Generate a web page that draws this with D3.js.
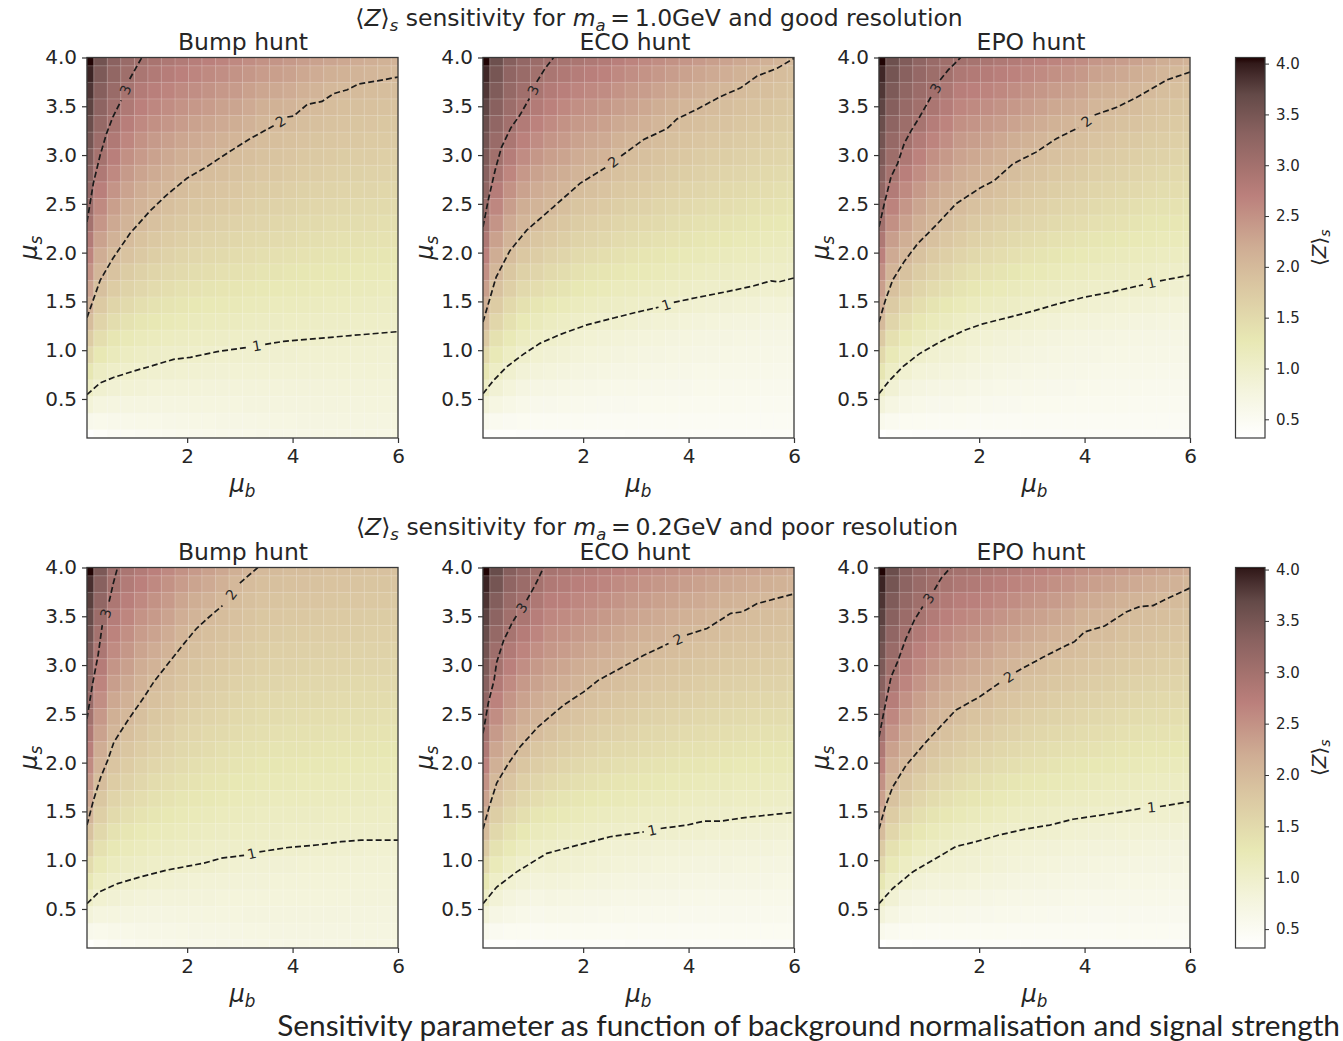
<!DOCTYPE html>
<html>
<head>
<meta charset="utf-8">
<script src="https://cdn.jsdelivr.net/npm/d3@7/dist/d3.min.js"></script>
<style>
  body { margin: 0; background: #fff; }
  svg { display: block; }
  text { font-family: "DejaVu Sans", sans-serif; fill: #262626; }
</style>
</head>
<body>
<div id="chart"></div>
<script>
// cell centres of the mesh
const muBGrid = [0.1,0.36,0.61,0.87,1.13,1.38,1.64,1.9,2.15,2.41,2.67,2.92,3.18,3.43,3.69,3.95,4.2,4.46,4.72,4.97,5.23,5.49,5.74,6];
const muSGrid = [0.1,0.27,0.44,0.61,0.78,0.95,1.12,1.29,1.46,1.63,1.8,1.97,2.13,2.3,2.47,2.64,2.81,2.98,3.15,3.32,3.49,3.66,3.83,4];

const xTicks = [2, 4, 6];
const yTicks = [0.5, 1, 1.5, 2, 2.5, 3, 3.5, 4];
const barTicks = [0.5, 1, 1.5, 2, 2.5, 3, 3.5, 4];

// pink_r, value -> colour
const zStops = [0.32,0.79,1.27,1.82,2.19,2.7,2.94,3.31,3.69,3.87,4,4.06];
const pinkStops = ['#ffffff','#f4f4dd','#e8e8b4','#dac6a1','#cfad94','#bb807c','#a87470','#8a6260','#644a48','#482f2f','#321a1a','#1e0000'];

// <Z>s, one inner list per muB column, bottom to top
const bumpGood = [
[.35,.60,.85,1.08,1.29,1.51,1.72,1.95,2.13,2.30,2.48,2.65,2.81,2.99,3.10,3.20,3.31,3.41,3.52,3.62,3.73,3.83,3.94,4.05],
[.42,.59,.76,.94,1.10,1.27,1.43,1.59,1.75,1.91,2.06,2.19,2.32,2.45,2.59,2.72,2.85,2.98,3.08,3.17,3.26,3.35,3.44,3.55],
[.47,.61,.75,.90,1.04,1.18,1.31,1.45,1.58,1.72,1.86,1.99,2.11,2.23,2.35,2.47,2.60,2.72,2.84,2.95,3.04,3.12,3.21,3.30],
[.50,.62,.75,.88,1.00,1.12,1.24,1.37,1.49,1.61,1.73,1.86,1.97,2.08,2.19,2.30,2.41,2.52,2.63,2.74,2.85,2.96,3.05,3.13],
[.52,.64,.75,.87,.97,1.08,1.19,1.31,1.42,1.54,1.65,1.77,1.87,1.99,2.09,2.19,2.29,2.40,2.50,2.60,2.70,2.80,2.91,3.01],
[.54,.64,.75,.85,.95,1.06,1.16,1.27,1.37,1.48,1.58,1.69,1.79,1.89,2.00,2.10,2.21,2.31,2.41,2.52,2.62,2.73,2.83,2.93],
[.56,.65,.75,.84,.94,1.03,1.13,1.23,1.33,1.43,1.53,1.63,1.72,1.82,1.92,2.02,2.13,2.24,2.34,2.45,2.55,2.66,2.76,2.87],
[.58,.67,.75,.84,.93,1.02,1.11,1.21,1.30,1.39,1.49,1.58,1.67,1.77,1.86,1.96,2.05,2.16,2.27,2.38,2.48,2.59,2.70,2.81],
[.60,.68,.76,.84,.92,1.01,1.09,1.18,1.27,1.36,1.45,1.54,1.63,1.72,1.81,1.90,2.00,2.11,2.22,2.32,2.43,2.54,2.64,2.75],
[.61,.68,.76,.83,.91,.99,1.08,1.16,1.25,1.34,1.43,1.52,1.60,1.69,1.78,1.87,1.96,2.06,2.17,2.27,2.38,2.49,2.59,2.70],
[.62,.69,.76,.83,.90,.97,1.06,1.15,1.23,1.32,1.40,1.49,1.57,1.66,1.75,1.83,1.92,2.01,2.12,2.22,2.32,2.43,2.54,2.65],
[.63,.70,.76,.83,.89,.97,1.05,1.14,1.22,1.30,1.39,1.47,1.55,1.63,1.72,1.80,1.88,1.96,2.07,2.18,2.28,2.39,2.49,2.60],
[.64,.70,.77,.83,.89,.95,1.04,1.12,1.20,1.28,1.36,1.44,1.52,1.60,1.68,1.76,1.84,1.92,2.00,2.11,2.22,2.33,2.44,2.55],
[.65,.71,.77,.83,.89,.95,1.03,1.11,1.19,1.26,1.34,1.42,1.49,1.57,1.65,1.73,1.80,1.88,1.96,2.04,2.15,2.27,2.38,2.50],
[.66,.72,.77,.83,.88,.94,1.02,1.10,1.17,1.25,1.33,1.40,1.48,1.55,1.63,1.70,1.78,1.85,1.93,2.00,2.12,2.23,2.35,2.46],
[.67,.72,.78,.83,.88,.94,1.01,1.09,1.16,1.24,1.31,1.39,1.46,1.53,1.61,1.68,1.75,1.83,1.90,1.98,2.08,2.20,2.31,2.42],
[.68,.73,.78,.83,.88,.93,1.01,1.08,1.15,1.22,1.29,1.36,1.43,1.50,1.58,1.65,1.72,1.79,1.86,1.94,2.02,2.13,2.25,2.36],
[.69,.74,.79,.83,.88,.93,1.00,1.07,1.14,1.21,1.28,1.35,1.42,1.49,1.56,1.63,1.70,1.77,1.84,1.91,1.98,2.09,2.20,2.32],
[.69,.74,.79,.83,.88,.93,.99,1.06,1.13,1.20,1.27,1.34,1.40,1.47,1.54,1.61,1.68,1.75,1.82,1.88,1.95,2.02,2.15,2.28],
[.70,.75,.79,.84,.88,.93,.99,1.06,1.13,1.19,1.26,1.33,1.39,1.46,1.53,1.59,1.66,1.73,1.80,1.86,1.93,2.00,2.12,2.25],
[.70,.75,.79,.84,.88,.93,.99,1.05,1.12,1.19,1.25,1.32,1.38,1.45,1.51,1.58,1.65,1.71,1.78,1.84,1.91,1.98,2.08,2.20],
[.71,.75,.80,.84,.89,.93,.98,1.05,1.11,1.18,1.24,1.31,1.37,1.44,1.50,1.57,1.63,1.70,1.76,1.83,1.90,1.96,2.05,2.16],
[.71,.75,.80,.84,.88,.92,.97,1.04,1.10,1.17,1.23,1.30,1.36,1.42,1.49,1.55,1.62,1.68,1.75,1.81,1.88,1.94,2.02,2.12],
[.72,.76,.80,.84,.88,.92,.97,1.03,1.10,1.16,1.23,1.29,1.35,1.42,1.48,1.55,1.61,1.68,1.74,1.81,1.87,1.94,2.00,2.10]
];
const ecoGood = [
[.33,.58,.82,1.07,1.30,1.52,1.75,2.00,2.18,2.35,2.53,2.70,2.87,3.03,3.13,3.23,3.33,3.43,3.53,3.62,3.72,3.82,3.92,4.05],
[.37,.54,.72,.90,1.07,1.23,1.39,1.56,1.72,1.88,2.04,2.19,2.33,2.47,2.62,2.76,2.91,3.03,3.13,3.22,3.32,3.41,3.50,3.60],
[.38,.52,.66,.81,.95,1.09,1.24,1.38,1.52,1.67,1.81,1.96,2.09,2.22,2.36,2.50,2.63,2.77,2.90,3.02,3.09,3.17,3.24,3.35],
[.39,.51,.62,.74,.86,.99,1.12,1.25,1.38,1.51,1.65,1.79,1.92,2.05,2.18,2.31,2.43,2.56,2.69,2.81,2.94,3.04,3.12,3.20],
[.39,.50,.60,.71,.82,.93,1.05,1.18,1.31,1.44,1.57,1.70,1.82,1.95,2.08,2.20,2.32,2.44,2.56,2.68,2.80,2.92,3.01,3.10],
[.40,.50,.60,.70,.80,.90,1.00,1.12,1.25,1.38,1.50,1.63,1.75,1.87,2.01,2.13,2.24,2.35,2.46,2.58,2.69,2.80,2.91,3.02],
[.40,.50,.59,.68,.78,.87,.96,1.08,1.20,1.33,1.45,1.57,1.69,1.81,1.93,2.06,2.18,2.29,2.40,2.50,2.61,2.72,2.84,2.95],
[.41,.50,.58,.66,.75,.84,.92,1.04,1.15,1.27,1.39,1.50,1.61,1.73,1.84,1.96,2.08,2.20,2.31,2.42,2.53,2.64,2.77,2.90],
[.41,.49,.57,.65,.73,.81,.89,1.01,1.12,1.23,1.34,1.46,1.57,1.68,1.80,1.91,2.03,2.15,2.26,2.38,2.49,2.60,2.73,2.85],
[.42,.49,.56,.64,.72,.80,.87,.98,1.10,1.21,1.32,1.43,1.54,1.64,1.75,1.86,1.97,2.10,2.22,2.33,2.44,2.56,2.68,2.80],
[.42,.49,.56,.63,.70,.77,.85,.96,1.07,1.17,1.28,1.38,1.48,1.58,1.69,1.79,1.90,2.00,2.12,2.24,2.36,2.48,2.60,2.72],
[.43,.49,.56,.62,.69,.76,.83,.93,1.05,1.15,1.25,1.35,1.45,1.55,1.65,1.75,1.85,1.95,2.06,2.19,2.31,2.42,2.54,2.66],
[.43,.49,.55,.61,.68,.74,.81,.90,1.03,1.13,1.23,1.32,1.42,1.52,1.62,1.72,1.82,1.91,2.01,2.13,2.25,2.37,2.48,2.60],
[.43,.49,.55,.61,.67,.73,.80,.88,1.01,1.11,1.21,1.30,1.39,1.49,1.58,1.68,1.77,1.87,1.96,2.06,2.18,2.30,2.43,2.55],
[.44,.49,.55,.60,.66,.72,.78,.87,.99,1.09,1.18,1.27,1.36,1.45,1.54,1.64,1.73,1.82,1.91,2.00,2.12,2.25,2.37,2.50],
[.44,.49,.54,.60,.65,.71,.76,.84,.95,1.06,1.15,1.24,1.33,1.42,1.51,1.60,1.69,1.78,1.87,1.96,2.06,2.19,2.32,2.45],
[.44,.49,.54,.59,.64,.70,.75,.82,.93,1.04,1.13,1.22,1.30,1.39,1.48,1.57,1.66,1.74,1.83,1.92,2.01,2.14,2.27,2.40],
[.44,.49,.54,.59,.64,.69,.74,.81,.91,1.03,1.11,1.20,1.28,1.37,1.45,1.54,1.63,1.71,1.80,1.88,1.97,2.08,2.22,2.35],
[.45,.49,.54,.58,.63,.68,.73,.79,.90,1.02,1.10,1.18,1.27,1.35,1.44,1.52,1.60,1.69,1.77,1.86,1.94,2.04,2.17,2.30],
[.45,.49,.54,.58,.63,.67,.72,.78,.88,.99,1.08,1.16,1.24,1.33,1.41,1.49,1.57,1.66,1.74,1.82,1.90,1.99,2.12,2.25],
[.45,.49,.53,.58,.62,.67,.71,.77,.87,.98,1.07,1.15,1.22,1.30,1.38,1.46,1.54,1.62,1.70,1.78,1.86,1.94,2.07,2.20],
[.45,.49,.53,.57,.62,.66,.70,.75,.84,.95,1.04,1.12,1.20,1.28,1.36,1.44,1.52,1.60,1.68,1.76,1.84,1.92,1.99,2.13],
[.45,.49,.53,.57,.61,.65,.70,.75,.85,.96,1.05,1.12,1.19,1.27,1.35,1.42,1.50,1.58,1.65,1.73,1.81,1.88,1.96,2.07],
[.45,.49,.53,.57,.61,.65,.69,.74,.83,.94,1.03,1.10,1.17,1.25,1.32,1.40,1.47,1.55,1.62,1.70,1.77,1.85,1.92,2.00]
];
const epoGood = [
[.33,.58,.82,1.07,1.30,1.52,1.75,2.00,2.18,2.35,2.53,2.70,2.87,3.03,3.13,3.23,3.33,3.43,3.53,3.62,3.72,3.82,3.92,4.05],
[.37,.54,.72,.90,1.07,1.24,1.40,1.57,1.74,1.90,2.07,2.22,2.36,2.52,2.67,2.81,2.97,3.07,3.16,3.26,3.35,3.44,3.52,3.60],
[.38,.51,.65,.78,.93,1.09,1.25,1.40,1.56,1.72,1.88,2.03,2.16,2.31,2.45,2.59,2.73,2.86,3.00,3.07,3.15,3.23,3.32,3.40],
[.39,.51,.62,.74,.85,.99,1.14,1.28,1.43,1.58,1.73,1.88,2.02,2.15,2.28,2.42,2.55,2.68,2.81,2.95,3.03,3.10,3.18,3.25],
[.39,.50,.60,.71,.82,.93,1.06,1.20,1.34,1.48,1.62,1.76,1.89,2.02,2.15,2.27,2.40,2.52,2.65,2.77,2.90,3.02,3.07,3.12],
[.40,.50,.60,.70,.80,.90,1.00,1.14,1.27,1.41,1.54,1.68,1.80,1.94,2.06,2.18,2.30,2.42,2.54,2.65,2.77,2.89,3.00,3.05],
[.40,.50,.59,.69,.78,.88,.97,1.08,1.21,1.34,1.47,1.59,1.72,1.85,1.97,2.08,2.19,2.30,2.41,2.52,2.63,2.74,2.87,3.00],
[.41,.49,.58,.66,.75,.84,.92,1.03,1.15,1.28,1.40,1.53,1.64,1.77,1.89,2.02,2.13,2.25,2.36,2.47,2.59,2.70,2.82,2.95],
[.41,.49,.57,.65,.73,.81,.89,1.00,1.12,1.24,1.36,1.48,1.59,1.71,1.83,1.95,2.07,2.19,2.31,2.42,2.54,2.66,2.78,2.90],
[.42,.49,.56,.64,.71,.79,.86,.97,1.10,1.21,1.33,1.44,1.55,1.66,1.78,1.90,2.01,2.13,2.25,2.37,2.49,2.61,2.73,2.85],
[.42,.49,.56,.63,.70,.77,.84,.95,1.07,1.18,1.29,1.40,1.50,1.61,1.72,1.83,1.94,2.05,2.18,2.30,2.43,2.55,2.68,2.80],
[.43,.49,.55,.62,.68,.75,.82,.92,1.04,1.15,1.25,1.36,1.46,1.57,1.67,1.78,1.88,1.99,2.12,2.25,2.37,2.50,2.62,2.75],
[.43,.49,.55,.61,.67,.73,.80,.89,1.02,1.12,1.23,1.33,1.43,1.54,1.64,1.74,1.85,1.95,2.06,2.19,2.31,2.44,2.57,2.70],
[.43,.49,.55,.60,.66,.72,.78,.87,1.00,1.10,1.20,1.30,1.39,1.49,1.59,1.69,1.79,1.89,1.99,2.12,2.25,2.38,2.52,2.65],
[.44,.49,.54,.60,.65,.71,.76,.85,.97,1.07,1.17,1.27,1.36,1.46,1.56,1.66,1.76,1.86,1.95,2.07,2.21,2.34,2.47,2.60],
[.44,.49,.54,.59,.65,.70,.75,.84,.95,1.06,1.15,1.25,1.34,1.44,1.54,1.63,1.73,1.83,1.92,2.03,2.17,2.29,2.42,2.55],
[.44,.49,.54,.59,.64,.69,.74,.82,.93,1.04,1.13,1.22,1.31,1.40,1.49,1.58,1.67,1.76,1.86,1.95,2.05,2.18,2.32,2.45],
[.44,.49,.54,.58,.63,.68,.73,.81,.91,1.03,1.11,1.20,1.29,1.38,1.47,1.56,1.65,1.74,1.83,1.92,2.01,2.15,2.28,2.42],
[.45,.49,.54,.58,.63,.68,.72,.80,.89,1.01,1.10,1.18,1.27,1.36,1.45,1.53,1.62,1.71,1.79,1.88,1.98,2.10,2.24,2.37],
[.45,.49,.53,.58,.62,.67,.71,.78,.88,.99,1.08,1.16,1.25,1.34,1.42,1.51,1.60,1.68,1.77,1.86,1.95,2.05,2.18,2.32],
[.45,.49,.53,.57,.62,.66,.71,.77,.87,.98,1.07,1.15,1.23,1.31,1.39,1.48,1.56,1.65,1.73,1.82,1.90,2.00,2.13,2.26],
[.45,.49,.53,.57,.61,.66,.70,.76,.85,.96,1.05,1.13,1.21,1.29,1.37,1.45,1.53,1.62,1.70,1.78,1.86,1.94,2.05,2.18],
[.45,.49,.53,.57,.61,.65,.69,.75,.84,.94,1.04,1.12,1.20,1.28,1.36,1.44,1.52,1.60,1.68,1.76,1.84,1.92,2.01,2.14],
[.45,.49,.53,.57,.61,.65,.69,.74,.82,.93,1.02,1.10,1.18,1.26,1.34,1.42,1.50,1.58,1.66,1.74,1.82,1.90,1.98,2.10]
];
const bumpPoor = [
[.38,.60,.82,1.05,1.26,1.46,1.67,1.88,2.09,2.25,2.42,2.57,2.72,2.87,3.01,3.12,3.23,3.35,3.46,3.56,3.66,3.76,3.87,4.05],
[.45,.59,.76,.93,1.09,1.24,1.38,1.53,1.67,1.81,1.96,2.08,2.19,2.31,2.43,2.54,2.66,2.78,2.89,2.99,3.10,3.22,3.33,3.45],
[.50,.63,.76,.90,1.03,1.14,1.26,1.37,1.49,1.60,1.72,1.83,1.94,2.05,2.15,2.25,2.36,2.46,2.57,2.67,2.77,2.88,3.00,3.06],
[.54,.64,.75,.86,.99,1.10,1.20,1.30,1.41,1.51,1.62,1.72,1.82,1.92,2.03,2.13,2.23,2.34,2.44,2.53,2.63,2.72,2.81,2.90],
[.57,.65,.74,.84,.96,1.07,1.16,1.25,1.35,1.44,1.54,1.63,1.72,1.82,1.91,2.00,2.10,2.19,2.29,2.38,2.48,2.60,2.70,2.80],
[.59,.66,.74,.83,.93,1.04,1.13,1.21,1.30,1.39,1.47,1.56,1.64,1.73,1.81,1.90,1.99,2.10,2.20,2.30,2.40,2.50,2.60,2.70],
[.60,.67,.74,.82,.92,1.03,1.11,1.19,1.27,1.35,1.43,1.51,1.59,1.67,1.75,1.83,1.91,1.99,2.10,2.20,2.30,2.40,2.50,2.60],
[.62,.68,.75,.82,.90,1.01,1.08,1.16,1.23,1.31,1.38,1.46,1.53,1.60,1.68,1.75,1.83,1.90,1.98,2.07,2.17,2.27,2.38,2.50],
[.63,.69,.75,.82,.88,.99,1.07,1.14,1.21,1.28,1.35,1.42,1.49,1.56,1.63,1.70,1.77,1.84,1.91,1.98,2.08,2.18,2.29,2.40],
[.64,.70,.76,.82,.87,.98,1.05,1.12,1.19,1.26,1.32,1.39,1.46,1.52,1.59,1.66,1.73,1.79,1.86,1.93,2.00,2.11,2.22,2.33],
[.65,.70,.76,.81,.87,.95,1.03,1.10,1.17,1.23,1.30,1.36,1.42,1.49,1.56,1.62,1.69,1.75,1.82,1.88,1.95,2.02,2.13,2.25],
[.66,.71,.76,.81,.86,.93,1.03,1.09,1.15,1.21,1.27,1.33,1.39,1.46,1.52,1.58,1.64,1.70,1.77,1.83,1.89,1.95,2.02,2.15],
[.67,.72,.77,.81,.86,.91,1.02,1.08,1.14,1.20,1.26,1.32,1.37,1.43,1.49,1.55,1.61,1.67,1.73,1.79,1.85,1.91,1.97,2.07],
[.68,.72,.77,.81,.86,.91,1.01,1.07,1.12,1.18,1.24,1.29,1.35,1.41,1.46,1.52,1.58,1.64,1.69,1.75,1.81,1.86,1.92,2.00],
[.68,.73,.77,.81,.85,.90,1.00,1.06,1.11,1.17,1.23,1.29,1.34,1.40,1.46,1.51,1.57,1.63,1.68,1.74,1.80,1.85,1.91,1.98],
[.69,.73,.77,.81,.85,.90,.99,1.05,1.11,1.16,1.22,1.28,1.33,1.39,1.45,1.50,1.56,1.62,1.67,1.73,1.79,1.84,1.90,1.96],
[.69,.73,.77,.81,.85,.89,.98,1.05,1.10,1.16,1.21,1.27,1.33,1.38,1.44,1.49,1.55,1.61,1.66,1.72,1.78,1.83,1.89,1.95],
[.70,.74,.77,.81,.85,.89,.97,1.04,1.10,1.15,1.21,1.26,1.32,1.38,1.43,1.49,1.54,1.60,1.66,1.71,1.77,1.83,1.88,1.94],
[.70,.74,.77,.81,.85,.89,.96,1.04,1.09,1.15,1.20,1.26,1.31,1.37,1.43,1.48,1.54,1.59,1.65,1.71,1.76,1.82,1.87,1.93],
[.71,.74,.78,.81,.85,.88,.95,1.03,1.09,1.14,1.20,1.25,1.31,1.36,1.42,1.48,1.53,1.59,1.64,1.70,1.75,1.81,1.86,1.92],
[.71,.75,.78,.82,.85,.88,.94,1.03,1.08,1.14,1.19,1.25,1.30,1.36,1.41,1.47,1.52,1.58,1.63,1.69,1.74,1.80,1.85,1.91],
[.72,.75,.78,.82,.85,.88,.93,1.03,1.08,1.14,1.19,1.24,1.30,1.35,1.41,1.46,1.52,1.57,1.63,1.68,1.73,1.79,1.84,1.90],
[.72,.75,.78,.82,.85,.88,.93,1.03,1.08,1.13,1.19,1.24,1.29,1.35,1.40,1.46,1.51,1.57,1.62,1.67,1.73,1.78,1.84,1.89],
[.72,.75,.78,.82,.85,.88,.93,1.03,1.08,1.13,1.18,1.24,1.29,1.34,1.40,1.45,1.51,1.56,1.61,1.67,1.72,1.77,1.83,1.88]
];
const ecoPoor = [
[.33,.58,.82,1.07,1.29,1.51,1.74,1.97,2.15,2.32,2.50,2.68,2.85,3.00,3.11,3.22,3.33,3.44,3.54,3.64,3.74,3.84,3.94,4.05],
[.37,.53,.70,.87,1.05,1.21,1.37,1.53,1.69,1.85,2.01,2.14,2.27,2.41,2.55,2.68,2.82,2.96,3.06,3.17,3.27,3.38,3.52,3.65],
[.38,.51,.65,.79,.92,1.08,1.23,1.38,1.53,1.68,1.83,1.98,2.09,2.21,2.34,2.46,2.58,2.71,2.83,2.95,3.03,3.13,3.24,3.35],
[.39,.51,.62,.74,.86,.99,1.13,1.27,1.41,1.54,1.68,1.82,1.95,2.07,2.19,2.31,2.42,2.54,2.66,2.78,2.90,3.02,3.10,3.20],
[.39,.50,.60,.71,.82,.93,1.05,1.18,1.31,1.44,1.57,1.70,1.82,1.97,2.09,2.20,2.31,2.42,2.53,2.64,2.75,2.86,2.98,3.05],
[.40,.51,.62,.73,.84,.95,1.02,1.15,1.27,1.39,1.52,1.64,1.75,1.88,2.00,2.11,2.22,2.33,2.44,2.52,2.62,2.72,2.84,2.95],
[.40,.51,.62,.72,.83,.93,.99,1.11,1.23,1.34,1.46,1.58,1.69,1.81,1.93,2.04,2.16,2.27,2.38,2.48,2.58,2.69,2.79,2.90],
[.41,.51,.61,.71,.81,.91,.98,1.09,1.20,1.31,1.42,1.53,1.64,1.75,1.86,1.97,2.08,2.19,2.31,2.42,2.53,2.62,2.73,2.85],
[.41,.51,.60,.70,.79,.89,.95,1.06,1.17,1.27,1.38,1.48,1.59,1.69,1.80,1.91,2.01,2.13,2.25,2.36,2.47,2.58,2.69,2.80],
[.42,.51,.59,.69,.78,.87,.93,1.04,1.14,1.25,1.35,1.46,1.55,1.66,1.76,1.86,1.97,2.09,2.20,2.31,2.42,2.53,2.64,2.75],
[.42,.50,.59,.67,.76,.85,.91,1.02,1.12,1.22,1.32,1.42,1.52,1.62,1.72,1.82,1.92,2.02,2.14,2.25,2.36,2.47,2.58,2.70],
[.43,.51,.58,.67,.75,.84,.91,1.01,1.11,1.21,1.30,1.40,1.49,1.59,1.69,1.78,1.88,1.97,2.08,2.19,2.30,2.41,2.53,2.65],
[.43,.50,.58,.66,.74,.83,.90,1.00,1.09,1.18,1.28,1.37,1.46,1.55,1.65,1.74,1.83,1.93,2.03,2.15,2.26,2.37,2.48,2.60],
[.43,.50,.58,.65,.73,.81,.88,.98,1.07,1.17,1.26,1.35,1.44,1.53,1.62,1.71,1.80,1.90,1.99,2.11,2.22,2.33,2.44,2.56],
[.44,.50,.58,.65,.73,.80,.87,.98,1.07,1.16,1.24,1.33,1.42,1.51,1.60,1.69,1.78,1.87,1.96,2.06,2.17,2.29,2.40,2.52],
[.44,.50,.57,.64,.71,.79,.86,.96,1.05,1.13,1.22,1.31,1.39,1.48,1.57,1.66,1.75,1.84,1.92,2.01,2.13,2.24,2.36,2.48],
[.44,.50,.57,.64,.71,.78,.85,.95,1.04,1.12,1.21,1.30,1.38,1.46,1.55,1.64,1.72,1.81,1.90,1.98,2.10,2.22,2.33,2.45],
[.44,.50,.57,.63,.70,.77,.84,.93,1.03,1.11,1.19,1.28,1.36,1.44,1.53,1.61,1.69,1.78,1.86,1.95,2.05,2.17,2.28,2.40],
[.45,.51,.57,.63,.70,.77,.84,.93,1.03,1.11,1.19,1.27,1.35,1.43,1.51,1.59,1.67,1.75,1.84,1.92,2.00,2.12,2.24,2.36],
[.45,.51,.57,.63,.69,.76,.83,.92,1.01,1.09,1.17,1.25,1.33,1.41,1.49,1.58,1.66,1.74,1.82,1.90,1.98,2.09,2.21,2.33],
[.45,.51,.57,.63,.69,.76,.82,.91,1.01,1.09,1.17,1.25,1.32,1.40,1.48,1.56,1.64,1.72,1.80,1.88,1.96,2.05,2.17,2.30],
[.45,.51,.57,.63,.69,.75,.82,.91,1.00,1.08,1.16,1.24,1.31,1.39,1.47,1.55,1.63,1.71,1.78,1.86,1.94,2.03,2.15,2.27],
[.45,.51,.57,.62,.68,.75,.81,.90,.99,1.07,1.15,1.23,1.31,1.38,1.46,1.54,1.62,1.69,1.77,1.85,1.93,2.00,2.12,2.24],
[.45,.51,.56,.62,.68,.74,.80,.89,.98,1.06,1.14,1.22,1.29,1.37,1.45,1.52,1.60,1.68,1.75,1.83,1.91,1.98,2.09,2.20]
];
const epoPoor = [
[.33,.58,.82,1.07,1.29,1.51,1.74,1.97,2.16,2.33,2.51,2.69,2.86,3.02,3.13,3.23,3.33,3.44,3.54,3.64,3.74,3.84,3.94,4.05],
[.37,.54,.72,.90,1.07,1.23,1.39,1.56,1.72,1.88,2.04,2.19,2.33,2.47,2.62,2.76,2.91,3.03,3.12,3.22,3.32,3.42,3.52,3.62],
[.38,.51,.65,.78,.93,1.09,1.24,1.39,1.54,1.69,1.85,2.00,2.12,2.25,2.38,2.51,2.64,2.77,2.90,3.02,3.10,3.19,3.27,3.35],
[.39,.51,.62,.74,.86,.99,1.13,1.28,1.42,1.56,1.71,1.85,1.98,2.11,2.23,2.35,2.47,2.59,2.71,2.83,2.95,3.05,3.12,3.20],
[.39,.50,.61,.72,.83,.95,1.07,1.20,1.33,1.46,1.60,1.73,1.85,1.98,2.10,2.22,2.34,2.46,2.57,2.69,2.81,2.93,3.03,3.10],
[.40,.51,.61,.72,.82,.93,1.02,1.15,1.28,1.40,1.53,1.65,1.77,1.90,2.02,2.13,2.25,2.36,2.48,2.59,2.71,2.82,2.94,3.03],
[.40,.51,.61,.71,.82,.92,.98,1.10,1.22,1.34,1.46,1.58,1.70,1.82,1.94,2.06,2.17,2.29,2.40,2.51,2.63,2.74,2.86,2.98],
[.41,.51,.60,.70,.80,.90,.95,1.07,1.18,1.30,1.41,1.53,1.64,1.76,1.87,1.99,2.11,2.23,2.34,2.46,2.59,2.71,2.83,2.95],
[.41,.51,.60,.70,.79,.89,.94,1.05,1.16,1.28,1.39,1.50,1.60,1.72,1.83,1.95,2.07,2.19,2.31,2.42,2.54,2.66,2.78,2.90],
[.42,.51,.59,.68,.77,.86,.91,1.02,1.13,1.24,1.34,1.45,1.55,1.66,1.77,1.87,1.98,2.10,2.22,2.34,2.47,2.60,2.72,2.85],
[.42,.50,.59,.67,.75,.84,.89,.99,1.09,1.20,1.31,1.41,1.51,1.62,1.72,1.83,1.94,2.05,2.17,2.30,2.42,2.55,2.67,2.80],
[.43,.50,.58,.66,.74,.83,.88,.98,1.08,1.18,1.28,1.38,1.48,1.58,1.68,1.78,1.88,1.98,2.11,2.24,2.36,2.49,2.62,2.75],
[.43,.50,.58,.65,.73,.81,.87,.97,1.06,1.16,1.26,1.36,1.45,1.55,1.65,1.75,1.85,1.95,2.06,2.19,2.31,2.44,2.57,2.70],
[.43,.50,.57,.65,.72,.80,.86,.95,1.05,1.14,1.24,1.33,1.42,1.52,1.61,1.71,1.81,1.90,2.00,2.13,2.26,2.39,2.52,2.65],
[.44,.50,.57,.64,.71,.78,.85,.93,1.03,1.12,1.22,1.31,1.40,1.49,1.59,1.68,1.78,1.87,1.97,2.08,2.21,2.34,2.47,2.60],
[.44,.50,.57,.63,.70,.77,.84,.92,1.02,1.11,1.20,1.29,1.38,1.47,1.56,1.65,1.74,1.83,1.92,2.00,2.12,2.25,2.39,2.52],
[.44,.50,.56,.63,.70,.76,.83,.91,1.01,1.09,1.18,1.27,1.36,1.44,1.53,1.62,1.71,1.80,1.88,1.97,2.08,2.21,2.35,2.48],
[.44,.50,.56,.62,.69,.75,.82,.90,1.00,1.08,1.17,1.26,1.34,1.43,1.51,1.60,1.69,1.77,1.86,1.95,2.05,2.18,2.32,2.45],
[.45,.51,.57,.62,.68,.75,.82,.89,.98,1.06,1.15,1.23,1.32,1.40,1.48,1.57,1.65,1.74,1.82,1.90,1.99,2.12,2.26,2.40],
[.45,.51,.56,.62,.68,.74,.81,.88,.97,1.05,1.14,1.22,1.30,1.38,1.47,1.55,1.63,1.72,1.80,1.88,1.96,2.08,2.22,2.36],
[.45,.51,.56,.62,.68,.73,.80,.87,.96,1.04,1.13,1.21,1.28,1.37,1.45,1.53,1.61,1.70,1.78,1.86,1.94,2.05,2.19,2.33],
[.45,.51,.56,.62,.67,.73,.79,.87,.96,1.04,1.12,1.20,1.28,1.36,1.44,1.52,1.60,1.68,1.76,1.84,1.92,2.00,2.14,2.28],
[.45,.50,.56,.61,.67,.73,.78,.86,.95,1.03,1.11,1.19,1.27,1.35,1.43,1.51,1.59,1.67,1.75,1.83,1.91,1.98,2.11,2.24],
[.45,.50,.56,.61,.67,.72,.78,.85,.93,1.02,1.10,1.18,1.26,1.33,1.41,1.49,1.57,1.65,1.72,1.80,1.88,1.95,2.04,2.20]
];

// contour lines as [muB, muS]; null marks the gap that holds the level label
const bumpGoodC1 = [[.1,.545],[.35,.664],[.6,.72],[.98,.785],[1.36,.844],[1.74,.906],[2.06,.927],[2.57,.985],[3.16,1.03],null,[3.48,1.06],[3.83,1.09],[4.47,1.12],[5.1,1.15],[6,1.19]];
const bumpGoodC2 = [[.1,1.334],[.35,1.717],[.59,1.94],[.92,2.2],[1.3,2.43],[1.61,2.59],[1.99,2.76],[2.37,2.88],[2.76,3.02],[3.2,3.17],[3.64,3.3],null,[3.9,3.39],[4.02,3.4],[4.28,3.52],[4.56,3.55],[4.78,3.63],[5.04,3.67],[5.26,3.73],[5.61,3.76],[6,3.8]];
const bumpGoodC3 = [[.1,2.315],[.22,2.71],[.35,3],[.47,3.22],[.59,3.39],[.75,3.56],null,[.91,3.78],[1.14,4]];
const ecoGoodC1 = [[.1,.555],[.3,.69],[.55,.83],[.87,.96],[1.18,1.07],[1.56,1.16],[2.07,1.26],[2.58,1.33],[3.02,1.39],[3.43,1.44],null,[3.72,1.49],[4.16,1.54],[4.73,1.6],[5.24,1.66],[5.56,1.71],[5.71,1.7],[6,1.74]];
const ecoGoodC2 = [[.1,1.29],[.22,1.51],[.35,1.75],[.61,2.02],[.93,2.23],[1.44,2.47],[1.94,2.71],[2.42,2.87],null,[2.72,2.99],[3.15,3.16],[3.59,3.27],[3.78,3.37],[4.16,3.47],[4.61,3.6],[4.99,3.69],[5.3,3.81],[5.68,3.89],[6,3.99]];
const ecoGoodC3 = [[.1,2.264],[.2,2.54],[.33,2.845],[.45,3.08],[.63,3.28],[.8,3.41],[.98,3.58],null,[1.12,3.75],[1.28,3.89],[1.44,4]];
const epoGoodC1 = [[.1,.555],[.3,.69],[.55,.83],[.87,.965],[1.31,1.1],[1.75,1.21],[2.07,1.27],[2.51,1.33],[3.02,1.4],[3.46,1.47],[3.97,1.54],[4.54,1.6],[5.11,1.67],null,[5.43,1.71],[6,1.77]];
const epoGoodC2 = [[.1,1.29],[.22,1.51],[.36,1.72],[.58,1.91],[.83,2.09],[1.18,2.28],[1.56,2.5],[2.01,2.66],[2.29,2.74],[2.64,2.91],[3.08,3.03],[3.47,3.17],[3.88,3.28],null,[4.19,3.41],[4.61,3.49],[4.95,3.58],[5.24,3.67],[5.56,3.77],[6,3.85]];
const epoGoodC3 = [[.1,2.264],[.2,2.5],[.33,2.78],[.45,2.91],[.58,3.12],[.71,3.25],[.87,3.39],[1.09,3.6],null,[1.26,3.77],[1.41,3.87],[1.65,4]];
const bumpPoorC1 = [[.1,.555],[.33,.675],[.68,.76],[1.12,.83],[1.63,.9],[2.32,.97],[2.64,1.02],[3.08,1.05],null,[3.37,1.085],[3.91,1.13],[4.54,1.16],[4.92,1.19],[5.3,1.205],[6,1.205]];
const bumpPoorC2 = [[.1,1.36],[.22,1.61],[.36,1.85],[.49,2.02],[.61,2.21],[.87,2.43],[1.18,2.67],[1.37,2.83],[1.69,3.05],[1.94,3.22],[2.17,3.37],[2.39,3.48],[2.67,3.61],null,[3,3.84],[3.34,4]];
const bumpPoorC3 = [[.1,2.45],[.2,2.79],[.31,3.1],[.39,3.41],null,[.52,3.65],[.6,3.84],[.68,4]];
const ecoPoorC1 = [[.1,.555],[.36,.725],[.74,.88],[1.31,1.07],[1.94,1.16],[2.51,1.24],[3.15,1.29],null,[3.47,1.325],[3.97,1.36],[4.29,1.4],[4.61,1.4],[5.11,1.44],[6,1.49]];
const ecoPoorC2 = [[.1,1.32],[.22,1.55],[.36,1.79],[.58,1.99],[.8,2.16],[1.15,2.37],[1.63,2.59],[2.01,2.725],[2.29,2.845],[2.7,2.965],[3.15,3.1],[3.62,3.22],null,[3.97,3.31],[4.35,3.375],[4.8,3.53],[5.02,3.545],[5.3,3.63],[6,3.73]];
const ecoPoorC3 = [[.1,2.3],[.2,2.61],[.31,2.845],[.36,3.03],[.49,3.25],[.65,3.43],[.74,3.51],null,[.93,3.665],[1.09,3.82],[1.25,4]];
const epoPoorC1 = [[.1,.555],[.36,.71],[.74,.88],[1.12,1],[1.56,1.14],[1.94,1.19],[2.39,1.26],[2.89,1.32],[3.34,1.36],[3.78,1.42],[4.29,1.46],[4.86,1.51],[5.11,1.535],null,[5.43,1.55],[6,1.6]];
const epoPoorC2 = [[.1,1.32],[.22,1.55],[.36,1.75],[.61,1.97],[.99,2.21],[1.56,2.54],[2.01,2.675],[2.42,2.83],null,[2.7,2.93],[3.21,3.08],[3.65,3.2],[3.81,3.24],[4,3.34],[4.38,3.4],[4.79,3.545],[5.05,3.6],[5.3,3.61],[5.56,3.68],[6,3.79]];
const epoPoorC3 = [[.1,2.265],[.2,2.54],[.33,2.88],[.45,3.03],[.61,3.27],[.77,3.46],[.93,3.6],null,[1.15,3.77],[1.28,3.89],[1.46,4]];

const panels = [
  { title: 'Bump hunt', row: 0, col: 0, z: bumpGood, lines: [bumpGoodC1, bumpGoodC2, bumpGoodC3] },
  { title: 'ECO hunt', row: 0, col: 1, z: ecoGood, lines: [ecoGoodC1, ecoGoodC2, ecoGoodC3] },
  { title: 'EPO hunt', row: 0, col: 2, z: epoGood, lines: [epoGoodC1, epoGoodC2, epoGoodC3] },
  { title: 'Bump hunt', row: 1, col: 0, z: bumpPoor, lines: [bumpPoorC1, bumpPoorC2, bumpPoorC3] },
  { title: 'ECO hunt', row: 1, col: 1, z: ecoPoor, lines: [ecoPoorC1, ecoPoorC2, ecoPoorC3] },
  { title: 'EPO hunt', row: 1, col: 2, z: epoPoor, lines: [epoPoorC1, epoPoorC2, epoPoorC3] }
];

const width = 1343;
const height = 1041;
const plotW = 311;
const plotH = 380.5;
const colLeft = [87, 483, 879];
const titleCx = [243, 635, 1031];
const rowTop = [57.5, 567.5];
const barLeft = 1235.5;
const barW = 29.5;
// the two colour bars end at slightly different values
const barMax = [4.06, 4.02];
const barMin = 0.316;

const svg = d3.select('#chart').append('svg').attr('width', width).attr('height', height);
const defs = svg.append('defs');

const color = d3.scaleLinear().domain(zStops).range(pinkStops).clamp(true);
const x = d3.scaleLinear().domain([0.1, 6]).range([0, plotW]);
const y = d3.scaleLinear().domain([0.1, 4]).range([plotH, 0]);

// mesh edges: midpoints between centres, outer cells cut at the axis limits
function edges(centres) {
  const inner = d3.pairs(centres, (a, b) => (a + b) / 2);
  return [centres[0], ...inner, centres[centres.length - 1]];
}
const xEdges = edges(muBGrid);
const yEdges = edges(muSGrid);

// mathtext-like label, each part: [text, italic?, subscript?]
function mathText(sel, parts) {
  let lowered = false;
  parts.forEach(([str, italic, sub]) => {
    const t = sel.append('tspan').text(str).attr('font-style', italic ? 'italic' : 'normal');
    if (sub) {
      t.attr('font-size', '0.7em').attr('dy', lowered ? 0 : '0.3em');
      lowered = true;
    } else if (lowered) {
      t.attr('dy', '-0.21em');
      lowered = false;
    }
  });
  return sel;
}

const clip = defs.append('clipPath').attr('id', 'plot-clip');
clip.append('rect').attr('width', plotW).attr('height', plotH);

const contourLine = d3.line()
  .defined((d) => d !== null)
  .x((d) => x(d[0]))
  .y((d) => y(d[1]));

panels.forEach((panel) => {
  const g = svg.append('g').attr('transform', `translate(${colLeft[panel.col]},${rowTop[panel.row]})`);

  const cells = panel.z.flatMap((column, i) => column.map((value, j) => ({ i, j, value })));
  g.append('g').selectAll('rect').data(cells).join('rect')
    .attr('x', (d) => x(xEdges[d.i]))
    .attr('y', (d) => y(yEdges[d.j + 1]))
    .attr('width', (d) => x(xEdges[d.i + 1]) - x(xEdges[d.i]))
    .attr('height', (d) => y(yEdges[d.j]) - y(yEdges[d.j + 1]))
    .attr('fill', (d) => color(d.value))
    .attr('stroke', (d) => color(d.value))
    .attr('stroke-width', 0.4);

  // faint seams between the mesh cells
  const seams = g.append('g').attr('stroke', '#fff').attr('stroke-opacity', 0.2).attr('stroke-width', 1);
  seams.selectAll('.v').data(xEdges.slice(1, -1)).join('line').attr('class', 'v')
    .attr('x1', (d) => x(d)).attr('x2', (d) => x(d)).attr('y1', 0).attr('y2', plotH);
  seams.selectAll('.h').data(yEdges.slice(1, -1)).join('line').attr('class', 'h')
    .attr('y1', (d) => y(d)).attr('y2', (d) => y(d)).attr('x1', 0).attr('x2', plotW);

  const contours = g.append('g').attr('clip-path', 'url(#plot-clip)');
  panel.lines.forEach((pts, k) => {
    contours.append('path')
      .attr('d', contourLine(pts))
      .attr('fill', 'none')
      .attr('stroke', '#1a1a1a')
      .attr('stroke-width', 1.7)
      .attr('stroke-dasharray', '6,3');

    const gap = pts.indexOf(null);
    const ax = x(pts[gap - 1][0]);
    const ay = y(pts[gap - 1][1]);
    const bx = x(pts[gap + 1][0]);
    const by = y(pts[gap + 1][1]);
    const angle = Math.atan2(by - ay, bx - ax) * 180 / Math.PI;
    g.append('text')
      .attr('transform', `translate(${(ax + bx) / 2},${(ay + by) / 2}) rotate(${angle})`)
      .attr('text-anchor', 'middle')
      .attr('dy', '0.36em')
      .attr('font-size', 14)
      .text(k + 1);
  });

  const axisX = g.append('g').attr('transform', `translate(0,${plotH})`)
    .call(d3.axisBottom(x).tickValues(xTicks).tickFormat(d3.format('d')).tickSize(5).tickPadding(6).tickSizeOuter(0));
  const axisY = g.append('g')
    .call(d3.axisLeft(y).tickValues(yTicks).tickFormat(d3.format('.1f')).tickSize(5).tickPadding(5).tickSizeOuter(0));
  [axisX, axisY].forEach((axis) => {
    axis.attr('font-family', null).attr('font-size', null);
    axis.selectAll('text').attr('font-size', 20);
    axis.selectAll('line').attr('stroke', '#333').attr('stroke-width', 1.2);
    axis.select('.domain').remove();
  });

  g.append('rect').attr('width', plotW).attr('height', plotH)
    .attr('fill', 'none').attr('stroke', '#3a3a3a').attr('stroke-width', 1.3);

  svg.append('text')
    .attr('x', titleCx[panel.col])
    .attr('y', rowTop[panel.row] - 8)
    .attr('text-anchor', 'middle')
    .attr('font-size', 23.5)
    .text(panel.title);

  mathText(g.append('text')
    .attr('x', plotW / 2)
    .attr('y', plotH + 54)
    .attr('text-anchor', 'middle')
    .attr('font-size', 24), [['\u03bc', true], ['b', true, true]]);

  mathText(g.append('text')
    .attr('transform', `translate(-50,${plotH / 2}) rotate(-90)`)
    .attr('text-anchor', 'middle')
    .attr('font-size', 24), [['\u03bc', true], ['s', true, true]]);
});

// suptitles
const zLabel = [['\u27e8', false], ['Z', true], ['\u27e9', false], ['s', true, true]];
[
  { cx: 659, base: 26, tail: '1.0GeV and good resolution' },
  { cx: 657, base: 535, tail: '0.2GeV and poor resolution' }
].forEach((row) => {
  mathText(svg.append('text')
    .attr('x', row.cx)
    .attr('y', row.base)
    .attr('text-anchor', 'middle')
    .attr('font-size', 23.5),
    [...zLabel, [' sensitivity for ', false], ['m', true], ['a', true, true], ['\u2009=\u2009', false], [row.tail, false]]);
});

// colour bars
rowTop.forEach((top, rowIndex) => {
  const zTop = barMax[rowIndex];
  const barScale = d3.scaleLinear().domain([barMin, zTop]).range([plotH, 0]);
  const barGradient = defs.append('linearGradient').attr('id', `bar-gradient-${rowIndex}`)
    .attr('x1', 0).attr('x2', 0).attr('y1', 1).attr('y2', 0);
  barGradient.selectAll('stop').data(zStops).join('stop')
    .attr('offset', (d) => Math.max(0, Math.min(1, (d - barMin) / (zTop - barMin))))
    .attr('stop-color', (d) => color(d));

  const g = svg.append('g').attr('transform', `translate(${barLeft},${top})`);
  g.append('rect').attr('width', barW).attr('height', plotH)
    .attr('fill', `url(#bar-gradient-${rowIndex})`).attr('stroke', '#3a3a3a').attr('stroke-width', 1.2);
  const axis = g.append('g').attr('transform', `translate(${barW},0)`)
    .call(d3.axisRight(barScale).tickValues(barTicks).tickFormat(d3.format('.1f')).tickSize(4).tickPadding(7).tickSizeOuter(0));
  axis.attr('font-family', null).attr('font-size', null);
  axis.select('.domain').remove();
  axis.selectAll('text').attr('font-size', 15);
  axis.selectAll('line').attr('stroke', '#333');
  mathText(g.append('text')
    .attr('transform', `translate(${barW + 61},${plotH / 2}) rotate(-90)`)
    .attr('text-anchor', 'middle')
    .attr('font-size', 20), zLabel);
});

svg.append('text')
  .attr('x', 1340)
  .attr('y', 1036)
  .attr('text-anchor', 'end')
  .attr('font-size', 29.8)
  .style('font-family', 'Lato, "Open Sans", sans-serif')
  .style('fill', '#222')
  .text('Sensitivity parameter as function of background normalisation and signal strength');
</script>
</body>
</html>
